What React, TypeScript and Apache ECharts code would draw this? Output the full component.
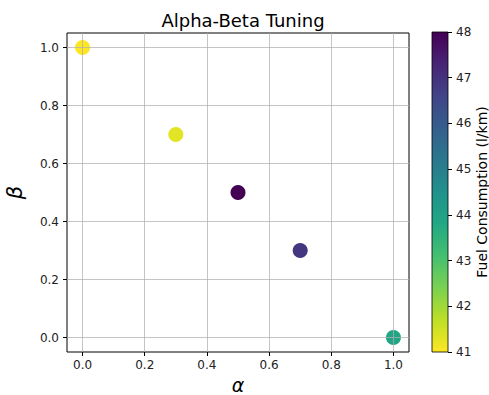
import React, { useEffect, useRef } from "react";
import * as echarts from "echarts";

const alphaValues = [0.0, 0.3, 0.5, 0.7, 1.0];
const betaValues = [1.0, 0.7, 0.5, 0.3, 0.0];
const fuelValues = [41.0, 41.3, 48.0, 46.9, 43.9];
const axisTicks = [0, 0.2, 0.4, 0.6, 0.8, 1.0];
const colorbarTicks = [41, 42, 43, 44, 45, 46, 47, 48];
const viridis = [
  "#440154", "#482475", "#414487", "#355f8d", "#2a788e", "#21918c",
  "#22a884", "#44bf70", "#7ad151", "#bddf26", "#fde725",
];

const FONT = "DejaVu Sans";

export default function App() {
  const ref = useRef<HTMLDivElement>(null);
  useEffect(() => {
    if (!ref.current) return;
    const chart = echarts.init(ref.current, null, { renderer: "svg" });
    const data = alphaValues.map((a, i) => [a, betaValues[i], fuelValues[i]]);
    const cMin = colorbarTicks[0];
    const cMax = colorbarTicks[colorbarTicks.length - 1];
    const tickLabel = { fontFamily: FONT, fontSize: 12, color: "#222" };
    const gridLine = { show: true, lineStyle: { color: "rgba(176,176,176,0.75)", width: 1 } };
    chart.setOption({
      animation: false,
      backgroundColor: "#fff",
      title: {
        text: "Alpha-Beta Tuning",
        left: 238,
        textAlign: "center",
        top: 6,
        textStyle: { fontFamily: FONT, fontSize: 18, fontWeight: "normal", color: "#000" },
      },
      grid: [
        { left: 67, top: 33, width: 342, height: 319, show: true, borderColor: "#000", borderWidth: 1, backgroundColor: "transparent", outerBoundsMode: "none", containLabel: false },
        { left: 432, top: 32, width: 16, height: 320, show: false, outerBoundsMode: "none", containLabel: false },
      ],
      xAxis: [
        {
          type: "value", gridIndex: 0, min: -0.05, max: 1.05, z: 5,
          axisLine: { show: false, onZero: false },
          axisTick: { show: true, inside: false, length: 4, lineStyle: { color: "#000" }, customValues: axisTicks },
          axisLabel: { ...tickLabel, margin: 7, customValues: axisTicks, formatter: (v: number) => v.toFixed(1) },
          splitLine: gridLine,
          name: "α", nameLocation: "middle", nameGap: 22,
          nameTextStyle: { fontFamily: FONT, fontSize: 19, fontStyle: "italic", color: "#000", lineHeight: 18 },
        },
        { type: "value", gridIndex: 1, min: 0, max: 1, show: false },
      ],
      yAxis: [
        {
          type: "value", gridIndex: 0, min: -0.05, max: 1.05, z: 5,
          axisLine: { show: false, onZero: false },
          axisTick: { show: true, inside: false, length: 4, lineStyle: { color: "#000" }, customValues: axisTicks },
          axisLabel: { ...tickLabel, margin: 8, customValues: axisTicks, formatter: (v: number) => v.toFixed(1) },
          splitLine: gridLine,
          name: "β", nameLocation: "middle", nameGap: 42, nameRotate: 90,
          nameTextStyle: { fontFamily: FONT, fontSize: 21, fontStyle: "italic", color: "#000" },
        },
        {
          type: "value", gridIndex: 1, min: cMin, max: cMax, interval: 1, position: "right",
          axisLine: { show: false, onZero: false },
          axisTick: { show: true, inside: false, length: 4, lineStyle: { color: "#000" } },
          axisLabel: { ...tickLabel, margin: 8 },
          splitLine: { show: false },
          name: "Fuel Consumption (l/km)", nameLocation: "middle", nameGap: 25, nameRotate: 90,
          nameTextStyle: { fontFamily: FONT, fontSize: 14, color: "#000", lineHeight: 14 },
        },
      ],
      visualMap: {
        show: false, type: "continuous", seriesIndex: 0, dimension: 2,
        min: cMin, max: cMax, inRange: { color: viridis.slice().reverse() },
      },
      series: [
        {
          type: "scatter", xAxisIndex: 0, yAxisIndex: 0, data, symbolSize: 15, z: 2,
          itemStyle: { opacity: 1 },
        },
        {
          type: "custom", xAxisIndex: 1, yAxisIndex: 1, data: [[0, cMin, 1, cMax]], z: 2, silent: true,
          renderItem: (params: any, api: any) => {
            const p1 = api.coord([api.value(0), api.value(3)]);
            const p2 = api.coord([api.value(2), api.value(1)]);
            return {
              type: "rect",
              shape: { x: p1[0], y: p1[1], width: p2[0] - p1[0], height: p2[1] - p1[1] },
              style: {
                fill: new echarts.graphic.LinearGradient(0, 0, 0, 1,
                  viridis.map((c, i) => ({ offset: i / (viridis.length - 1), color: c }))),
                stroke: "#000",
                lineWidth: 0.8,
              },
            };
          },
        },
      ],
    });
    return () => chart.dispose();
  }, []);
  return <div ref={ref} style={{ width: 489, height: 395, position: "absolute", left: 0, top: 0 }} />;
}
